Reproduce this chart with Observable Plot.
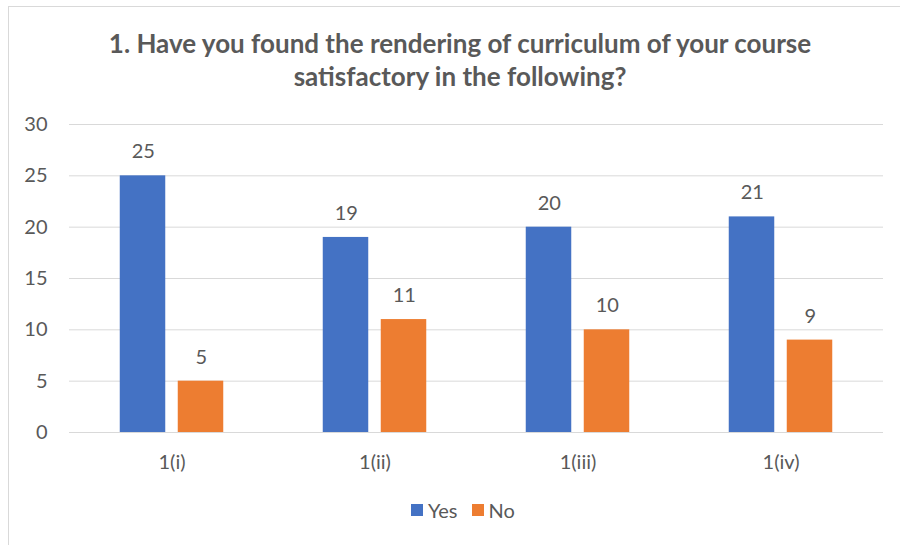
<!DOCTYPE html>
<html>
<head>
<meta charset="utf-8">
<script src="https://cdn.jsdelivr.net/npm/d3@7"></script>
<script src="https://cdn.jsdelivr.net/npm/@observablehq/plot@0.6"></script>
<style>
  html, body { margin: 0; padding: 0; background: #fff; overflow: hidden; }
  #wrap { position: relative; width: 900px; height: 545px; overflow: hidden; font-family: Lato, "Open Sans", sans-serif; color: #595959; }
  #frame { position: absolute; left: 8px; top: 6px; width: 1000px; height: 1000px; border: 1.5px solid #d9d9d9; box-sizing: border-box; }
  #title { position: absolute; left: 0; width: 920px; top: 27px; text-align: center; font-weight: bold; font-size: 26px; line-height: 33px; }
  #chart { position: absolute; left: 0; top: 0; }
  #legend { position: absolute; left: 411px; top: 498px; display: flex; align-items: center; font-size: 20px; }
  .sw { width: 12px; height: 12px; display: inline-block; margin-right: 5px; }
  .item { display: flex; align-items: center; margin-right: 14px; }
</style>
</head>
<body>
<div id="wrap">
  <div id="frame"></div>
  <div id="chart"></div>
  <div id="title">1. Have you found the rendering of curriculum of your course<br>satisfactory in the following?</div>
  <div id="legend"></div>
</div>
<script>
const categories = ["1(i)", "1(ii)", "1(iii)", "1(iv)"];
const yesValues = [25, 19, 20, 21];
const noValues = [5, 11, 10, 9];
const seriesNames = ["Yes", "No"];
const seriesColors = ["#4472C4", "#ED7D31"];
const yTicks = [0, 5, 10, 15, 20, 25, 30];

const yesData = categories.map((c, i) => ({cat: c, value: yesValues[i]}));
const noData = categories.map((c, i) => ({cat: c, value: noValues[i]}));

const textColor = "#595959";

const chart = Plot.plot({
  width: 900,
  height: 545,
  marginLeft: 69,
  marginRight: 17,
  marginTop: 124,
  marginBottom: 113,
  style: {fontFamily: "Lato, 'Open Sans', sans-serif", fontSize: "20px", color: textColor, background: "transparent"},
  x: {domain: categories, padding: 0, axis: null},
  y: {domain: [0, 30], axis: null},
  marks: [
    Plot.ruleY(yTicks, {stroke: "#d9d9d9", strokeWidth: 1}),
    Plot.barY(yesData, {x: "cat", y: "value", fill: seriesColors[0], insetLeft: 49.75, insetRight: 107.75}),
    Plot.barY(noData, {x: "cat", y: "value", fill: seriesColors[1], insetLeft: 107.75, insetRight: 49.75}),
    Plot.text(yesData, {x: "cat", y: "value", text: d => String(d.value), dx: -28.75, dy: -24, fill: textColor, fontSize: 20}),
    Plot.text(noData, {x: "cat", y: "value", text: d => String(d.value), dx: 29.25, dy: -24, fill: textColor, fontSize: 20}),
    Plot.axisX({tickSize: 0, tickPadding: 22, label: null, fontSize: 20}),
    Plot.axisY({ticks: yTicks, tickSize: 0, tickPadding: 22, label: null, fontSize: 20})
  ]
});
document.getElementById("chart").appendChild(chart);

const legend = document.getElementById("legend");
seriesNames.forEach((name, i) => {
  const item = document.createElement("div");
  item.className = "item";
  const sw = document.createElement("span");
  sw.className = "sw";
  sw.style.background = seriesColors[i];
  item.appendChild(sw);
  const t = document.createElement("span");
  t.textContent = name;
  item.appendChild(t);
  legend.appendChild(item);
});
</script>
</body>
</html>
